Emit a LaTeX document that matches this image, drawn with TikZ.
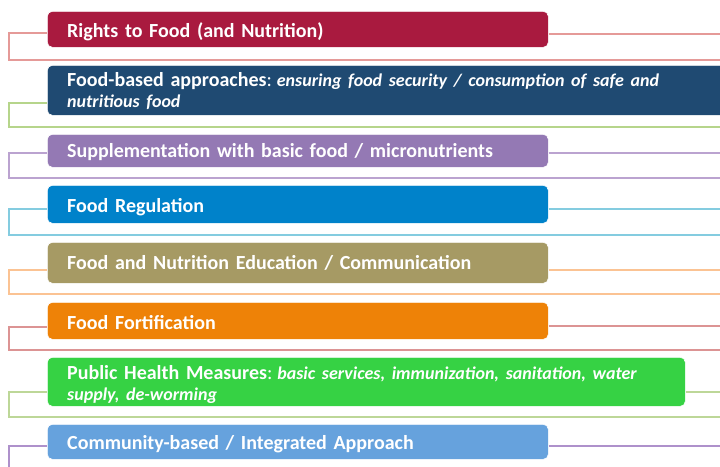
\documentclass[tikz,border=0pt]{standalone}
\usepackage{fontspec}
\setmainfont{Carlito}
\definecolor{bA}{HTML}{A91A3F}
\definecolor{bB}{HTML}{1F4A72}
\definecolor{bC}{HTML}{9479B4}
\definecolor{bD}{HTML}{0082CA}
\definecolor{bE}{HTML}{A69A64}
\definecolor{bF}{HTML}{EE8207}
\definecolor{bG}{HTML}{36D244}
\definecolor{bH}{HTML}{66A2DD}
\definecolor{lA}{HTML}{E59A98}
\definecolor{lB}{HTML}{B6D58B}
\definecolor{lC}{HTML}{BBA3D0}
\definecolor{lD}{HTML}{84CCE0}
\definecolor{lE}{HTML}{FBC393}
\definecolor{lF}{HTML}{DC9494}
\definecolor{lG}{HTML}{BDD798}
\definecolor{lH}{HTML}{AE91CB}
\newcommand{\itx}[1]{{\fontsize{18}{21}\selectfont\itshape #1}}
\begin{document}
\begin{tikzpicture}[x=1pt,y=-1pt,
  bar/.style={rounded corners=5pt, anchor=north west, inner sep=0pt,
    draw=white, line width=0.6pt},
  txt/.style={anchor=base west, inner sep=0pt, align=left, text width=640pt,
    text=white, font=\fontsize{20}{21}\selectfont\bfseries},
  conn/.style={line width=2pt}]
\useasboundingbox (0,0) rectangle (720,466);
\clip (0,0) rectangle (720,466);
% bars
\node[bar, fill=bA, minimum width=501pt, minimum height=36pt] (b1) at (47,11) {};
\node[bar, fill=bB, minimum width=683pt, minimum height=50pt] (b2) at (47,65) {};
\node[bar, fill=bC, minimum width=501pt, minimum height=33pt] (b3) at (47,134) {};
\node[bar, fill=bD, minimum width=501pt, minimum height=38pt] (b4) at (47,185) {};
\node[bar, fill=bE, minimum width=501pt, minimum height=41pt] (b5) at (47,242) {};
\node[bar, fill=bF, minimum width=501pt, minimum height=37pt] (b6) at (47,302) {};
\node[bar, fill=bG, minimum width=638pt, minimum height=49pt] (b7) at (47,357) {};
\node[bar, fill=bH, minimum width=501pt, minimum height=35pt] (b8) at (47,424) {};
% texts
\node[txt] (t1) at ([shift={(20,26)}]b1.north west) {Rights to Food (and Nutrition)};
\node[txt] (t2) at ([shift={(20,21)}]b2.north west) {Food-based approaches\textmd{:}\hspace{5pt}\itx{ensuring food security / consumption of safe and}\\\itx{nutritious food}};
\node[txt] (t3) at ([shift={(20,23)}]b3.north west) {Supplementation with basic food / micronutrients};
\node[txt] (t4) at ([shift={(20,27)}]b4.north west) {Food Regulation};
\node[txt] (t5) at ([shift={(20,27)}]b5.north west) {Food and Nutrition Education / Communication};
\node[txt] (t6) at ([shift={(20,27)}]b6.north west) {Food Fortification};
\node[txt] (t7) at ([shift={(20,22)}]b7.north west) {Public Health Measures\textmd{:}\hspace{5pt}\itx{basic services, immunization, sanitation, water}\\\itx{supply, de-worming}};
\node[txt] (t8) at ([shift={(20,25)}]b8.north west) {Community-based / Integrated Approach};
% connector points
\coordinate (L1) at (9,33);  \coordinate (E1) at (720,60);  \coordinate (R1) at (720,34);
\coordinate (L2) at (9,103); \coordinate (E2) at (720,127);
\coordinate (L3) at (9,153); \coordinate (E3) at (720,178); \coordinate (R3) at (720,153);
\coordinate (L4) at (9,209); \coordinate (E4) at (720,235); \coordinate (R4) at (720,209);
\coordinate (L5) at (9,270); \coordinate (E5) at (720,294); \coordinate (R5) at (720,270);
\coordinate (L6) at (9,327); \coordinate (E6) at (720,350); \coordinate (R6) at (720,326);
\coordinate (L7) at (9,392); \coordinate (E7) at (720,417); \coordinate (R7) at (720,392);
\coordinate (L8) at (9,446); \coordinate (E8) at (9,472);   \coordinate (R8) at (720,446);
% connectors
\draw[conn, lA] (b1.west |- L1) -- (L1) |- (E1);
\draw[conn, lA] (b1.east |- R1) -- (R1);
\draw[conn, lB] (b2.west |- L2) -- (L2) |- (E2);
\draw[conn, lC] (b3.west |- L3) -- (L3) |- (E3);
\draw[conn, lC] (b3.east |- R3) -- (R3);
\draw[conn, lD] (b4.west |- L4) -- (L4) |- (E4);
\draw[conn, lD] (b4.east |- R4) -- (R4);
\draw[conn, lE] (b5.west |- L5) -- (L5) |- (E5);
\draw[conn, lE] (b5.east |- R5) -- (R5);
\draw[conn, lF] (b6.west |- L6) -- (L6) |- (E6);
\draw[conn, lF] (b6.east |- R6) -- (R6);
\draw[conn, lG] (b7.west |- L7) -- (L7) |- (E7);
\draw[conn, lG] (b7.east |- R7) -- (R7);
\draw[conn, lH] (b8.west |- L8) -- (L8) -- (E8);
\draw[conn, lH] (b8.east |- R8) -- (R8);
\end{tikzpicture}
\end{document}
